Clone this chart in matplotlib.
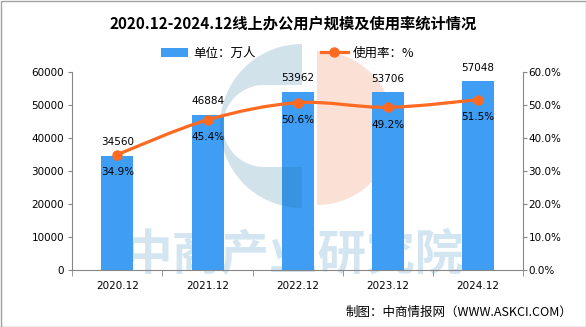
import numpy as np
import matplotlib
matplotlib.use('Agg')
import matplotlib.pyplot as plt
import matplotlib.transforms as mtransforms
from matplotlib.patches import Rectangle, Wedge, PathPatch, Patch
from matplotlib.path import Path
from matplotlib.lines import Line2D

#%%%%%%%%%% Datos
periodos = ['2020.12', '2021.12', '2022.12', '2023.12', '2024.12']
usuarios = [34560, 46884, 53962, 53706, 57048]  # 万人
tasa = [34.9, 45.4, 50.6, 49.2, 51.5]  # %

titulo = '2020.12-2024.12线上办公用户规模及使用率统计情况'
fuente = '制图：中商情报网（WWW.ASKCI.COM）'
marca = '中商产业研究院'

CJK = ['Noto Sans CJK SC', 'DejaVu Sans']
NUM = 'DejaVu Sans'
azul = '#3F9EF4'
naranja = '#FF6A22'
gris = '#878787'

W, H = 586, 327
fig = plt.figure(figsize=(W / 100, H / 100), dpi=100)
# transformacion en pixeles con origen arriba a la izquierda (para la marca de agua)
px = mtransforms.Affine2D().scale(1 / W, -1 / H).translate(0, 1) + fig.transFigure

x0, x1, y0, y1 = 72.3, 523, 71.7, 269.7
ax = fig.add_axes([x0 / W, (H - y1) / H, (x1 - x0) / W, (y1 - y0) / H])
x = np.arange(len(periodos))

#%%%%%%%%%% Marca de agua (logo + texto), detras y delante de las barras
ax.add_patch(Wedge((317, 128), 77, -90, 90, transform=px, color='#FAE0D5',
                   lw=0, zorder=0.5, clip_on=False))
ax.text(294, 256, marca, transform=px, ha='center', va='center', fontsize=35,
        fontweight='bold', color='#D3E5F0', family=CJK, zorder=0.6)

# "C" azul: medio disco exterior menos hueco interior
cx, cy, R = 302, 126, 82
t = np.linspace(np.pi / 2, 3 * np.pi / 2, 60)
ext = np.column_stack([cx + R * np.cos(t), cy - R * np.sin(t)])
ic, r = 264, 41
t2 = np.linspace(-np.pi / 2, -3 * np.pi / 2, 40)
hueco = np.vstack([[cx, cy + r], np.column_stack([ic + r * np.cos(t2), cy - r * np.sin(t2)]), [cx, cy - r]])
verts = np.vstack([ext, [ext[0]], hueco, [hueco[0]]])
codes = ([Path.MOVETO] + [Path.LINETO] * (len(ext) - 1) + [Path.CLOSEPOLY]
         + [Path.MOVETO] + [Path.LINETO] * (len(hueco) - 1) + [Path.CLOSEPOLY])
ax.add_patch(PathPatch(Path(verts, codes), transform=px, facecolor='#1F6E9E', alpha=0.2,
                       lw=0, zorder=3, clip_on=False))

#%%%%%%%%%% Barras
ax.bar(x, usuarios, width=0.355, color=azul, zorder=2)
for xi, v in zip(x, usuarios):
    ax.annotate(str(v), (xi, v), xytext=(0, 10), textcoords='offset points',
                ha='center', va='center', fontsize=7.5, family=NUM, zorder=6)

ax.set_xlim(-0.5, len(periodos) - 0.5)
ax.set_ylim(0, 60000)
ax.set_yticks(np.arange(0, 60001, 10000))
ax.set_xticks(x)
ax.set_xticklabels(periodos, family=NUM, fontsize=7.5)
ax.set_xticks(np.arange(-0.5, len(periodos)), minor=True)
ax.tick_params(axis='x', which='major', length=0, pad=8)
ax.tick_params(axis='x', which='minor', length=4.5, direction='out', color=gris)
ax.tick_params(axis='y', length=3, color=gris, labelsize=7.5, pad=3)
for lab in ax.get_yticklabels():
    lab.set_family(NUM)
for s in ['top', 'right']:
    ax.spines[s].set_visible(False)
for s in ['left', 'bottom']:
    ax.spines[s].set_color(gris)

#%%%%%%%%%% Linea suavizada (eje derecho)
ax2 = ax.twinx()
ax2.set_ylim(0, 60)
ax2.set_yticks(np.arange(0, 61, 10))
ax2.set_yticklabels([f'{v:.1f}%' for v in np.arange(0, 61, 10)], family=NUM, fontsize=7.5)
ax2.tick_params(axis='y', length=3, color=gris, pad=1)
for s in ['top', 'left', 'bottom']:
    ax2.spines[s].set_visible(False)
ax2.spines['right'].set_color(gris)

P = np.column_stack([x, tasa]).astype(float)
Pe = np.vstack([P[0], P, P[-1]])
vs = [P[0]]
cs = [Path.MOVETO]
for i in range(len(P) - 1):
    c1 = Pe[i + 1] + (Pe[i + 2] - Pe[i]) / 6
    c2 = Pe[i + 2] - (Pe[i + 3] - Pe[i + 1]) / 6
    vs += [c1, c2, Pe[i + 2]]
    cs += [Path.CURVE4] * 3
ax2.add_patch(PathPatch(Path(vs, cs), facecolor='none', edgecolor=naranja, lw=2.3,
                        capstyle='round', zorder=4))
ax2.plot(x, tasa, ls='none', marker='o', ms=6.5, color=naranja, zorder=5)
for xi, v in zip(x, tasa):
    ax2.annotate(f'{v}%', (xi, v), xytext=(0, -12.5), textcoords='offset points',
                 ha='center', va='center', fontsize=7.5, family=NUM, zorder=6)

#%%%%%%%%%% Leyenda, titulo y fuente
handles = [Patch(facecolor=azul, edgecolor='none'),
           Line2D([], [], color=naranja, lw=2.3, marker='o', ms=6.5)]
fig.legend(handles, ['单位：万人', '使用率：%'], loc='center', bbox_to_anchor=(0.491, 1 - 53 / H),
           ncol=2, frameon=False, prop={'family': CJK, 'size': 9}, handlelength=2.2,
           handleheight=0.72, handletextpad=0.4, columnspacing=5.2)

fig.text(0.5, 1 - 24 / H, titulo, ha='center', va='center', fontsize=11,
         fontweight='bold', family=CJK)
fig.text(572 / W, 1 - 312 / H, fuente, ha='right', va='center', fontsize=9, family=CJK)

fig.patches.append(Rectangle((0.5 / W, 0.5 / H), 1 - 1 / W, 1 - 1 / H, transform=fig.transFigure,
                             fill=False, edgecolor='#A0A0A0', lw=1))

fig.savefig('out.png', dpi=100)
